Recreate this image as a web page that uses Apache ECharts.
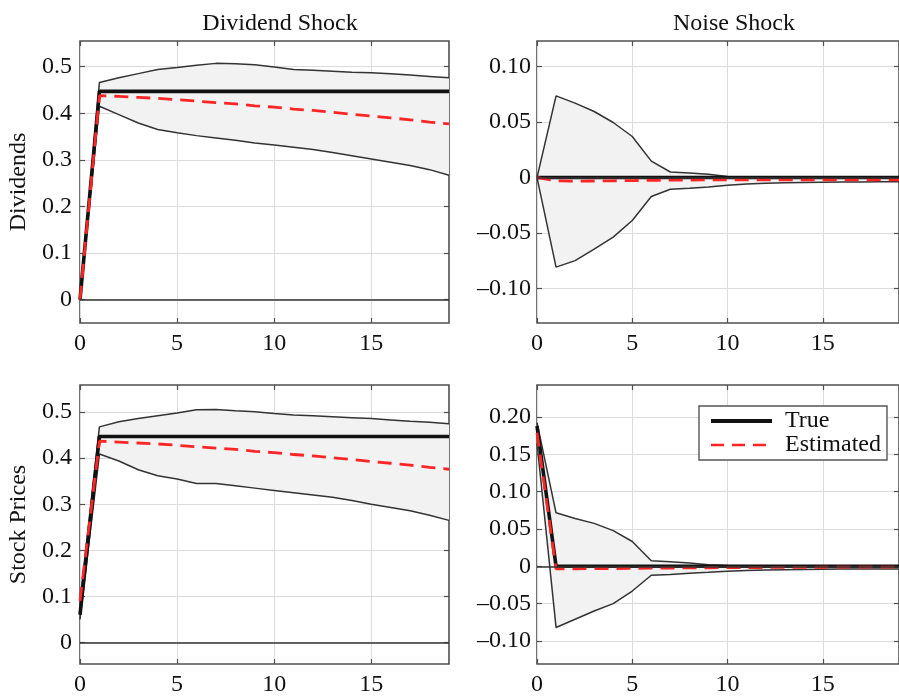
<!DOCTYPE html>
<html><head><meta charset="utf-8">
<script src="https://cdn.jsdelivr.net/npm/echarts@6/dist/echarts.min.js"></script>
<style>html,body{margin:0;padding:0;background:#fff}#c{width:899px;height:697px}</style>
</head><body><div id="c"></div>
<script>
const steps = [0,1,2,3,4,5,6,7,8,9,10,11,12,13,14,15,16,17,18,19];
const xTicks = [0,5,10,15];
const colTitles = ['Dividend Shock','Noise Shock'];
const rowNames = ['Dividends','Stock Prices'];
const legendNames = ['True','Estimated'];

// Dividend shock -> Dividends
const divDivUpper = [0,0.466,0.476,0.485,0.494,0.498,0.503,0.507,0.506,0.504,0.499,0.494,0.492,0.490,0.488,0.487,0.485,0.482,0.479,0.476];
const divDivLower = [0,0.415,0.397,0.379,0.365,0.358,0.352,0.347,0.342,0.336,0.332,0.327,0.322,0.316,0.309,0.302,0.295,0.288,0.279,0.267];
const divDivTrue  = [0,0.447,0.447,0.447,0.447,0.447,0.447,0.447,0.447,0.447,0.447,0.447,0.447,0.447,0.447,0.447,0.447,0.447,0.447,0.447];
const divDivEst   = [0,0.438,0.436,0.434,0.432,0.429,0.426,0.423,0.420,0.416,0.413,0.409,0.406,0.402,0.398,0.394,0.390,0.386,0.381,0.377];

// Dividend shock -> Stock prices
const divPriceUpper = [0.09,0.468,0.479,0.486,0.492,0.498,0.505,0.506,0.503,0.501,0.497,0.494,0.492,0.490,0.488,0.486,0.483,0.480,0.478,0.475];
const divPriceLower = [0.05,0.409,0.394,0.375,0.362,0.355,0.345,0.345,0.340,0.335,0.330,0.325,0.320,0.315,0.308,0.300,0.293,0.286,0.276,0.265];
const divPriceTrue  = [0.06,0.447,0.447,0.447,0.447,0.447,0.447,0.447,0.447,0.447,0.447,0.447,0.447,0.447,0.447,0.447,0.447,0.447,0.447,0.447];
const divPriceEst   = [0.09,0.437,0.435,0.433,0.431,0.428,0.425,0.422,0.419,0.415,0.412,0.408,0.405,0.401,0.397,0.393,0.389,0.385,0.380,0.376];

// Noise shock -> Dividends
const noiseDivUpper = [0,0.0736,0.067,0.0595,0.0496,0.037,0.0148,0.005,0.0042,0.003,0.001,0.0003,0,0,0,0,0,0,0,0];
const noiseDivLower = [0,-0.0807,-0.0748,-0.0645,-0.0537,-0.0387,-0.0171,-0.0105,-0.0096,-0.0084,-0.0069,-0.0057,-0.0051,-0.0047,-0.0044,-0.0042,-0.0040,-0.0039,-0.0038,-0.0037];
const noiseDivTrue  = [0,0,0,0,0,0,0,0,0,0,0,0,0,0,0,0,0,0,0,0];
const noiseDivEst   = [0,-0.0030,-0.0033,-0.0031,-0.0029,-0.0027,-0.0025,-0.0023,-0.0022,-0.0021,-0.0020,-0.0020,-0.0020,-0.0020,-0.0020,-0.0020,-0.0020,-0.0020,-0.0020,-0.0020];

// Noise shock -> Stock prices
const noisePriceUpper = [0.1925,0.0717,0.064,0.0575,0.0478,0.0332,0.0075,0.006,0.0044,0.0022,0.001,0.0003,0,0,0,0,0,0,0,0];
const noisePriceLower = [0.165,-0.082,-0.071,-0.060,-0.050,-0.0332,-0.012,-0.011,-0.0093,-0.008,-0.0066,-0.0058,-0.0050,-0.0045,-0.0042,-0.0040,-0.0038,-0.0037,-0.0036,-0.0035];
const noisePriceTrue  = [0.188,0,0,0,0,0,0,0,0,0,0,0,0,0,0,0,0,0,0,0];
const noisePriceEst   = [0.179,-0.0036,-0.0034,-0.0032,-0.0030,-0.0028,-0.0026,-0.0024,-0.0022,-0.0020,-0.0018,-0.0017,-0.0016,-0.0015,-0.0014,-0.0013,-0.0012,-0.0012,-0.0011,-0.0011];

// y tick values and labels
const yTicksLeft = [0,0.1,0.2,0.3,0.4,0.5];
const yLabelsLeft = ['0','0.1','0.2','0.3','0.4','0.5'];
const yTicksNoiseDiv = [-0.10,-0.05,0,0.05,0.10];
const yLabelsNoiseDiv = ['\u20130.10','\u20130.05','0','0.05','0.10'];
const yTicksNoisePrice = [-0.10,-0.05,0,0.05,0.10,0.15,0.20];
const yLabelsNoisePrice = ['\u20130.10','\u20130.05','0','0.05','0.10','0.15','0.20'];

const FONT = 'Liberation Serif';
const FS = 24;
const TXT = '#111';
const FRAME = '#505050';
const RED = '#ff2525';

const panels = [
  {grid:{left:80, top:41, width:369, height:282}, ymin:-0.05, ymax:0.555, ticks:yTicksLeft, labels:yLabelsLeft,
   upper:divDivUpper, lower:divDivLower, tr:divDivTrue, est:divDivEst, yName:rowNames[0], labelMargin:8},
  {grid:{left:537, top:41, width:369, height:282}, ymin:-0.131, ymax:0.123, ticks:yTicksNoiseDiv, labels:yLabelsNoiseDiv,
   upper:noiseDivUpper, lower:noiseDivLower, tr:noiseDivTrue, est:noiseDivEst, yName:'', labelMargin:6},
  {grid:{left:80, top:385, width:369, height:282}, ymin:-0.047, ymax:0.559, ticks:yTicksLeft, labels:yLabelsLeft,
   upper:divPriceUpper, lower:divPriceLower, tr:divPriceTrue, est:divPriceEst, yName:rowNames[1], labelMargin:8},
  {grid:{left:537, top:385, width:369, height:282}, ymin:-0.131, ymax:0.243, ticks:yTicksNoisePrice, labels:yLabelsNoisePrice,
   upper:noisePriceUpper, lower:noisePriceLower, tr:noisePriceTrue, est:noisePriceEst, yName:'', labelMargin:6}
];

const grids = [], xAxes = [], yAxes = [], series = [];
const pair = arr => steps.map((x, k) => [x, arr[k]]);

panels.forEach((p, i) => {
  grids.push(Object.assign({show:true, borderColor:FRAME, borderWidth:1.6, backgroundColor:'transparent'}, p.grid));
  const tickStyle = {inside:true, length:5, lineStyle:{color:FRAME, width:1.2}};
  xAxes.push({type:'value', gridIndex:i, min:0, max:19, position:'bottom',
    axisLine:{show:false, onZero:false},
    axisTick:Object.assign({customValues:xTicks}, tickStyle),
    axisLabel:{customValues:xTicks, margin:9, fontFamily:FONT, fontSize:FS, color:TXT},
    splitLine:{show:true, lineStyle:{color:'#dcdcdc', width:1}}});
  xAxes.push({type:'value', gridIndex:i, min:0, max:19, position:'top',
    axisLine:{show:false, onZero:false}, axisTick:Object.assign({customValues:xTicks}, tickStyle),
    axisLabel:{show:false}, splitLine:{show:false}});
  const labs = p.labels, tks = p.ticks;
  yAxes.push({type:'value', gridIndex:i, min:p.ymin, max:p.ymax, position:'left',
    axisLine:{show:false, onZero:false},
    axisTick:Object.assign({customValues:tks}, tickStyle),
    axisLabel:{customValues:tks, margin:p.labelMargin, fontFamily:FONT, fontSize:FS, color:TXT,
      formatter: v => { const k = tks.findIndex(t => Math.abs(t - v) < 1e-9); return k >= 0 ? labs[k] : ''; }},
    splitLine:{show:true, lineStyle:{color:'#dcdcdc', width:1}},
    name:p.yName, nameLocation:'middle', nameGap:49, nameRotate:90,
    nameTextStyle:{fontFamily:FONT, fontSize:FS, color:TXT}});
  yAxes.push({type:'value', gridIndex:i, min:p.ymin, max:p.ymax, position:'right',
    axisLine:{show:false, onZero:false}, axisTick:Object.assign({customValues:tks}, tickStyle),
    axisLabel:{show:false}, splitLine:{show:false}});

  const xi = 2*i, yi = 2*i;
  const up = p.upper, lo = p.lower;
  series.push({name:'band'+i, type:'custom', xAxisIndex:xi, yAxisIndex:yi, silent:true, z:1,
    data: steps.map((x, k) => [x, lo[k], up[k]]),
    encode:{x:0, y:[1,2]},
    renderItem: (params, api) => {
      if (params.dataIndex !== 0) return null;
      const pts = [];
      for (let k = 0; k < steps.length; k++) pts.push(api.coord([steps[k], up[k]]));
      for (let k = steps.length - 1; k >= 0; k--) pts.push(api.coord([steps[k], lo[k]]));
      return {type:'polygon', shape:{points:pts}, style:{fill:'#f2f2f2', stroke:null}};
    },
    markLine:{silent:true, symbol:'none', label:{show:false},
      lineStyle:{color:'#333', width:1.6, type:'solid'}, data:[{yAxis:0}]}});
  series.push({name:'upper'+i, type:'line', xAxisIndex:xi, yAxisIndex:yi, data:pair(up),
    symbol:'none', silent:true, lineStyle:{color:'#333', width:1.5}, z:2});
  series.push({name:'lower'+i, type:'line', xAxisIndex:xi, yAxisIndex:yi, data:pair(lo),
    symbol:'none', silent:true, lineStyle:{color:'#333', width:1.5}, z:2});
  series.push({name:legendNames[0], type:'line', xAxisIndex:xi, yAxisIndex:yi, data:pair(p.tr),
    symbol:'none', color:'#111', lineStyle:{color:'#111', width:3.6}, z:3});
  series.push({name:legendNames[1], type:'line', xAxisIndex:xi, yAxisIndex:yi, data:pair(p.est),
    symbol:'none', color:RED, lineStyle:{color:RED, width:2.8, type:[14,8]}, z:4});
});

const chart = echarts.init(document.getElementById('c'), null, {renderer:'canvas'});
chart.setOption({
  animation:false,
  backgroundColor:'#fff',
  title:[
    {text:colTitles[0], left:275, top:7, textAlign:'center', textStyle:{fontFamily:FONT, fontSize:FS, fontWeight:'normal', color:TXT}},
    {text:colTitles[1], left:729, top:7, textAlign:'center', textStyle:{fontFamily:FONT, fontSize:FS, fontWeight:'normal', color:TXT}}
  ],
  legend:{
    data:[
      {name:legendNames[0], lineStyle:{width:4, color:'#111'}},
      {name:legendNames[1], lineStyle:{width:2.4, color:RED, type:[13,8]}}
    ],
    orient:'vertical', left:699, top:406, itemWidth:61, itemHeight:14, itemGap:0,
    padding:[3,6,3,10], borderColor:'#555', borderWidth:1.4, backgroundColor:'#fff',
    itemStyle:{opacity:0},
    textStyle:{fontFamily:FONT, fontSize:FS, color:TXT, lineHeight:21, padding:[0,0,0,8]}, selectedMode:false},
  grid:grids, xAxis:xAxes, yAxis:yAxes, series:series
});
</script></body></html>
